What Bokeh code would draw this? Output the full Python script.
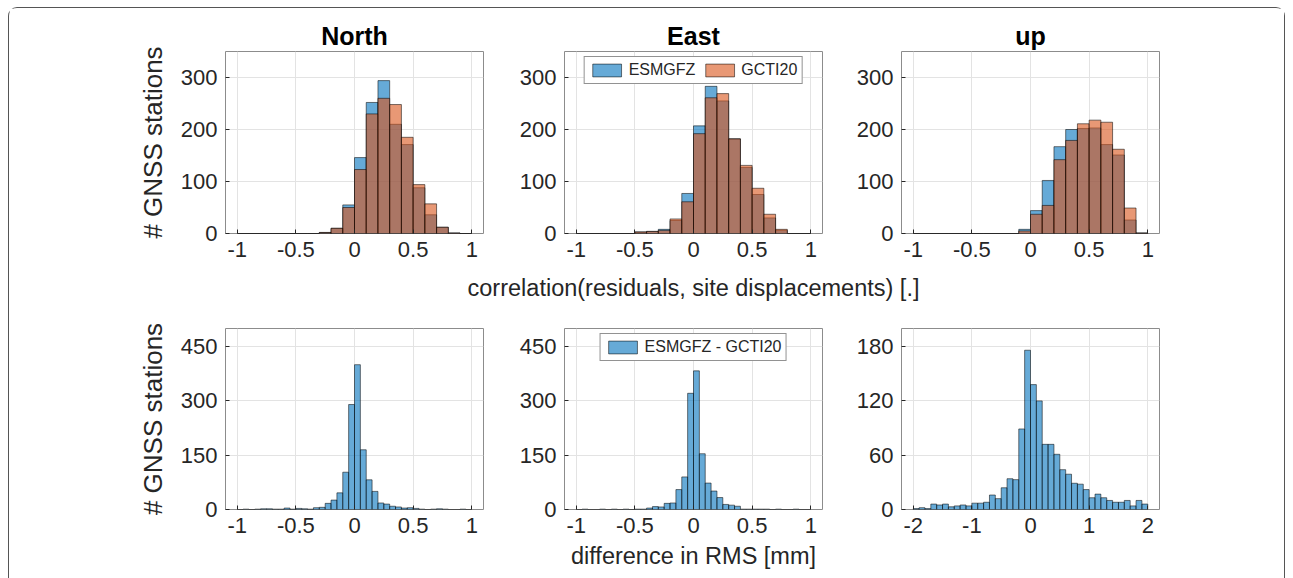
from bokeh.plotting import figure
from bokeh.models import FixedTicker, Range1d, Legend, LegendItem
from bokeh.layouts import row, column
from bokeh.core.properties import value
from bokeh.embed import file_html
from bokeh.resources import INLINE

FONT = "Liberation Sans"

# ---------------- data ----------------
# correlation histograms: 20 bins of width 0.1 from -1 to 1
corr_left = [round(-1.0 + 0.1 * i, 2) for i in range(20)]
corr_right = [round(l + 0.1, 2) for l in corr_left]

north_esmgfz = [0, 0, 0, 0, 0, 0, 0, 2, 10, 55, 146, 252, 294, 210, 171, 88, 36, 12, 1, 0]
north_gcti20 = [0, 0, 0, 0, 0, 0, 0, 2, 10, 50, 123, 230, 260, 248, 185, 94, 57, 12, 1, 0]
east_esmgfz = [0, 0, 0, 0, 0, 3, 4, 8, 25, 77, 207, 283, 255, 182, 127, 75, 30, 6, 0, 0]
east_gcti20 = [0, 0, 0, 0, 0, 3, 4, 6, 28, 61, 192, 261, 269, 182, 131, 87, 37, 8, 0, 0]
up_esmgfz = [0, 0, 0, 0, 0, 0, 0, 0, 0, 8, 44, 102, 167, 200, 202, 203, 171, 151, 26, 1]
up_gcti20 = [0, 0, 0, 0, 0, 0, 0, 0, 0, 5, 37, 54, 142, 179, 211, 218, 214, 162, 49, 1]

# RMS difference histograms (North/East): 40 bins of 0.05 from -1 to 1
ne_left = [round(-1.0 + 0.05 * i, 3) for i in range(40)]
ne_right = [round(l + 0.05, 3) for l in ne_left]
north_diff = [0, 1, 0, 1, 2, 2, 1, 1, 4, 1, 3, 2, 1, 5, 6, 17, 26, 46, 103, 290,
              400, 165, 82, 50, 18, 15, 9, 7, 4, 5, 3, 1, 0, 1, 2, 1, 0, 0, 1, 0]
east_diff = [0, 1, 0, 0, 1, 0, 1, 0, 1, 0, 1, 1, 4, 8, 7, 17, 18, 55, 90, 321,
             383, 154, 73, 51, 33, 14, 12, 9, 1, 1, 1, 1, 1, 0, 1, 0, 0, 1, 0, 0]

# RMS difference histogram (up): 40 bins of 0.1 from -2 to 2
up_left = [round(-2.0 + 0.1 * i, 2) for i in range(40)]
up_right = [round(l + 0.1, 2) for l in up_left]
up_diff = [1, 2, 1, 6, 5, 6, 3, 4, 5, 4, 7, 7, 8, 16, 12, 24, 34, 33, 89, 176,
           138, 120, 72, 72, 61, 44, 39, 29, 28, 22, 13, 17, 13, 10, 8, 8, 10, 4, 10, 6]

titles = ["North", "East", "up"]
corr_ticks = [-1, -0.5, 0, 0.5, 1]
corr_tick_labels = ["-1", "-0.5", "0", "0.5", "1"]
up_ticks = [-2, -1, 0, 1, 2]
up_tick_labels = ["-2", "-1", "0", "1", "2"]
top_yticks = [0, 100, 200, 300]
bot_yticks_ne = [0, 150, 300, 450]
bot_yticks_up = [0, 60, 120, 180]
ylabel = "# GNSS stations"
xlabel_top = "correlation(residuals, site displacements) [.]"
xlabel_bot = "difference in RMS [mm]"
leg_top = ["ESMGFZ", "GCTI20"]
leg_bot = "ESMGFZ - GCTI20"

BLUE = "#0072BD"
ORANGE = "#D95319"
TXT = "#262626"


def make_fig(width, height, mleft, mright, mtop, mbottom, xr, yr,
             xticks, xtlabels, yticks, title=None, ylab=None, xlab=None):
    p = figure(width=width, height=height, output_backend="svg",
               toolbar_location=None, x_range=Range1d(*xr), y_range=Range1d(*yr),
               min_border_left=mleft, min_border_right=mright,
               min_border_top=mtop, min_border_bottom=mbottom)
    p.background_fill_color = "white"
    p.border_fill_color = "white"
    p.outline_line_color = "#8c8c8c"
    p.outline_line_width = 1
    for ax, ticks in ((p.xaxis[0], xticks), (p.yaxis[0], yticks)):
        ax.ticker = FixedTicker(ticks=ticks)
        ax.minor_tick_line_color = None
        ax.major_tick_in = 4
        ax.major_tick_out = 0
        ax.major_tick_line_color = TXT
        ax.axis_line_color = None
        ax.major_label_text_font = FONT
        ax.major_label_text_font_size = "22px"
        ax.major_label_text_color = TXT
        ax.major_label_standoff = 8
        ax.axis_label_text_font = FONT
        ax.axis_label_text_font_style = "normal"
        ax.axis_label_text_color = TXT
    p.xaxis[0].major_label_overrides = {t: l for t, l in zip(xticks, xtlabels)}
    p.xgrid.ticker = FixedTicker(ticks=xticks)
    p.ygrid.ticker = FixedTicker(ticks=yticks)
    p.xgrid.grid_line_color = "#e3e3e3"
    p.ygrid.grid_line_color = "#e3e3e3"
    if title:
        p.title.text = title
        p.title.align = "center"
        p.title.text_font = FONT
        p.title.text_font_size = "25px"
        p.title.text_font_style = "bold"
        p.title.text_color = "black"
        p.title.standoff = 4
    if ylab:
        p.yaxis[0].axis_label = ylab
        p.yaxis[0].axis_label_text_font_size = "26px"
        p.yaxis[0].axis_label_standoff = 10
    if xlab:
        p.xaxis[0].axis_label = xlab
        p.xaxis[0].axis_label_text_font_size = "23.5px"
        p.xaxis[0].axis_label_standoff = 7
    return p


def hist(p, left, right, vals, color):
    return p.quad(left=left, right=right, bottom=0, top=vals,
                  fill_color=color, fill_alpha=0.6,
                  line_color="black", line_alpha=0.75, line_width=0.7)


def style_legend(leg):
    leg.orientation = "horizontal"
    leg.location = "top"
    leg.margin = 5
    leg.padding = 4
    leg.spacing = 6
    leg.glyph_width = 36
    leg.glyph_height = 16
    leg.label_standoff = 4
    leg.label_text_font = FONT
    leg.label_text_font_size = "16px"
    leg.label_text_color = TXT
    leg.border_line_color = TXT
    leg.border_line_width = 1
    leg.background_fill_alpha = 1.0


# layout geometry (widths/borders)
W = [484, 339, 452]
ML = [216, 71, 69]
MR = [10, 10, 125]
H1, HL, H2 = 264, 30, 276

top_series = [(north_esmgfz, north_gcti20), (east_esmgfz, east_gcti20), (up_esmgfz, up_gcti20)]
top_figs = []
for i in range(3):
    p = make_fig(W[i], H1, ML[i], MR[i], 43, 39, (-1.1, 1.1), (0, 350),
                 corr_ticks, corr_tick_labels, top_yticks, title=titles[i],
                 ylab=ylabel if i == 0 else None)
    rb = hist(p, corr_left, corr_right, top_series[i][0], BLUE)
    ro = hist(p, corr_left, corr_right, top_series[i][1], ORANGE)
    if i == 1:
        leg = Legend(items=[LegendItem(label=leg_top[0], renderers=[rb]),
                            LegendItem(label=leg_top[1], renderers=[ro])])
        style_legend(leg)
        p.add_layout(leg)
    top_figs.append(p)

# shared x label of the top row, centred under the middle panel
total_w = sum(W)
lab = figure(width=total_w, height=HL, output_backend="svg", toolbar_location=None,
             x_axis_type=None, y_axis_type=None,
             x_range=Range1d(0, total_w), y_range=Range1d(0, HL),
             min_border_left=0, min_border_right=0, min_border_top=0, min_border_bottom=0)
lab.outline_line_color = None
lab.grid.visible = False
lab.text(x=[W[0] + ML[1] + 129], y=[HL / 2], text=[xlabel_top],
         text_font=value(FONT), text_font_size="23.5px", text_color=TXT,
         text_align="center", text_baseline="middle")

bot_figs = []
bot_data = [(ne_left, ne_right, north_diff, (-1.1, 1.1), corr_ticks, corr_tick_labels, bot_yticks_ne, (0, 500)),
            (ne_left, ne_right, east_diff, (-1.1, 1.1), corr_ticks, corr_tick_labels, bot_yticks_ne, (0, 500)),
            (up_left, up_right, up_diff, (-2.2, 2.2), up_ticks, up_tick_labels, bot_yticks_up, (0, 200))]
for i in range(3):
    l, r, v, xr, xt, xtl, yt, yr = bot_data[i]
    p = make_fig(W[i], H2, ML[i], MR[i], 26, 69, xr, yr, xt, xtl, yt,
                 ylab=ylabel if i == 0 else None,
                 xlab=xlabel_bot if i == 1 else None)
    rb = hist(p, l, r, v, BLUE)
    if i == 1:
        leg = Legend(items=[LegendItem(label=leg_bot, renderers=[rb])])
        style_legend(leg)
        p.add_layout(leg)
    bot_figs.append(p)

layout = column(row(*top_figs), lab, row(*bot_figs), margin=(7, 8, 0, 8),
                styles={"border-top": "1px solid #555555",
                        "border-left": "1px solid #555555",
                        "border-right": "1px solid #555555",
                        "border-top-left-radius": "9px",
                        "border-top-right-radius": "9px"})

open("out.html", "w").write(file_html(layout, INLINE))
